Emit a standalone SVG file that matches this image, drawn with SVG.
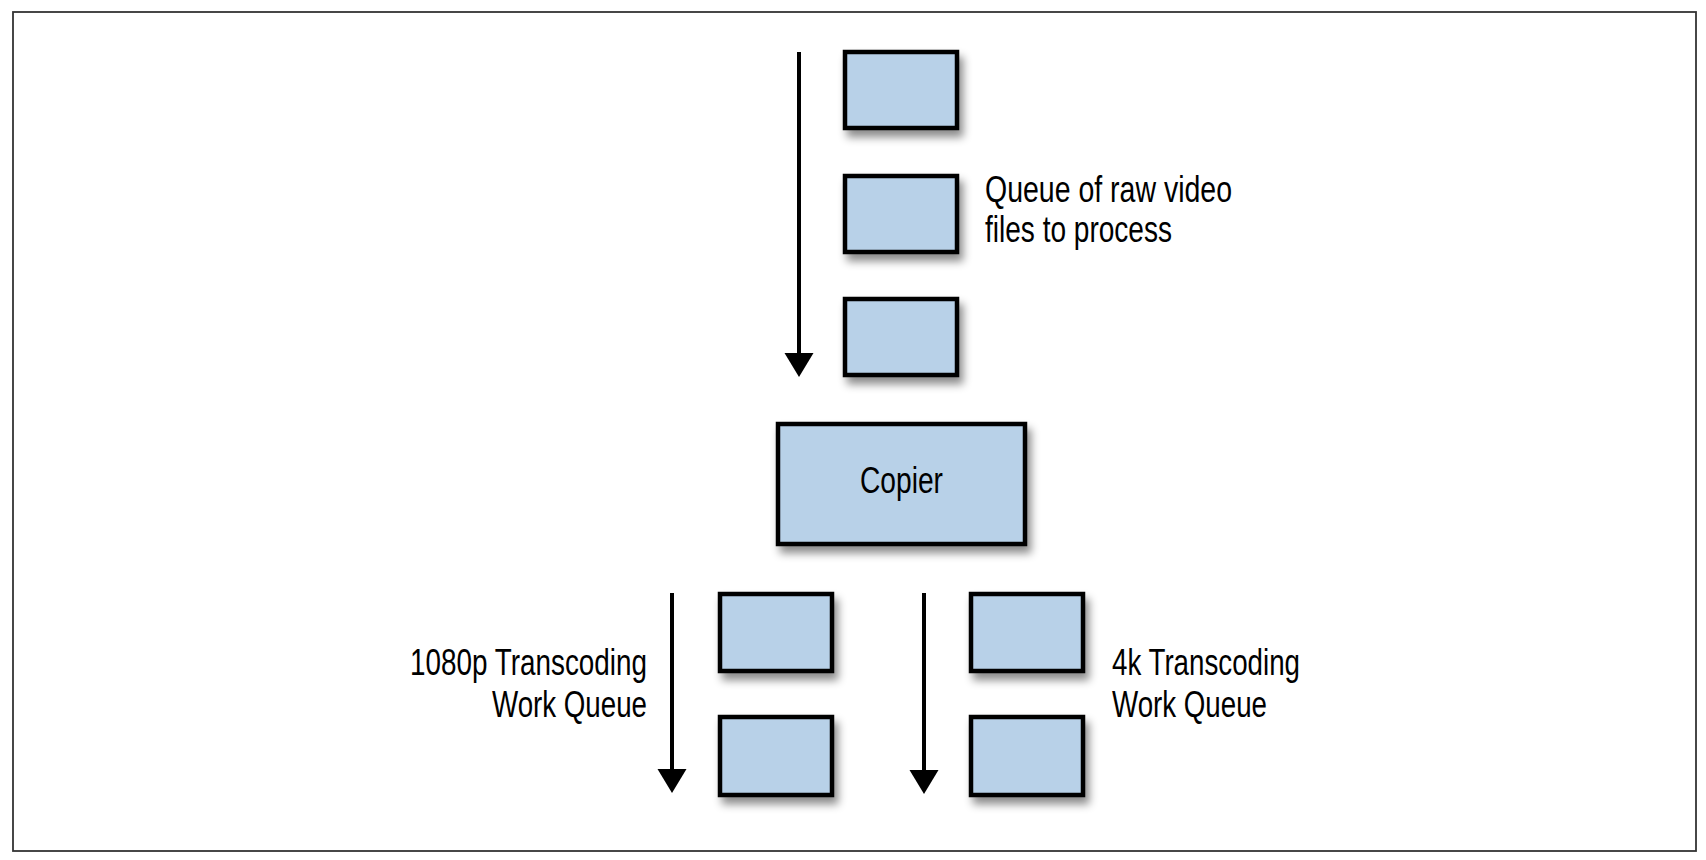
<svg xmlns="http://www.w3.org/2000/svg" width="1706" height="860" viewBox="0 0 1706 860">
<style>
.box{fill:#b8d1e8;stroke:#000;stroke-width:4.5;filter:url(#sh)}
.lbl{font-family:"Liberation Sans",Arial,sans-serif;font-size:36px;fill:#000}
.arr{stroke:#000;stroke-width:4;fill:none;marker-end:url(#ah)}
</style>
<defs>
<filter id="sh" x="-20%" y="-20%" width="150%" height="160%">
<feDropShadow dx="4" dy="7" stdDeviation="4" flood-color="#000" flood-opacity="0.45"/>
</filter>
<marker id="ah" markerUnits="userSpaceOnUse" markerWidth="26" markerHeight="30" viewBox="0 -15 26 30" refX="12" refY="0" orient="auto">
<path d="M0,-14.5 L24,0 L0,14.5 Z" fill="#000"/>
</marker>
</defs>
<rect x="13" y="12" width="1683" height="839" fill="#fff" stroke="#333" stroke-width="1.8"/>
<g id="connectors">
<line class="arr" x1="799" y1="52" x2="799" y2="365"/>
<line class="arr" x1="672" y1="593" x2="672" y2="781"/>
<line class="arr" x1="924" y1="593" x2="924" y2="782"/>
</g>
<g id="raw1"><rect class="box" x="845" y="52" width="112" height="76"/></g>
<g id="raw2"><rect class="box" x="845" y="176" width="112" height="76"/></g>
<g id="raw3"><rect class="box" x="845" y="299" width="112" height="76"/></g>
<g id="rawlabel"><text class="lbl" x="985" y="202" textLength="247" lengthAdjust="spacingAndGlyphs">Queue of raw video</text><text class="lbl" x="985" y="242" textLength="187" lengthAdjust="spacingAndGlyphs">files to process</text></g>
<g id="copier"><rect class="box" x="778" y="424" width="247" height="120"/><text class="lbl" x="860" y="493" textLength="83" lengthAdjust="spacingAndGlyphs">Copier</text></g>
<g id="q1080a"><rect class="box" x="720" y="594" width="112" height="77"/></g>
<g id="q1080b"><rect class="box" x="720" y="717" width="112" height="78"/></g>
<g id="label1080"><text class="lbl" x="410" y="675" textLength="237" lengthAdjust="spacingAndGlyphs">1080p Transcoding</text><text class="lbl" x="492" y="717" textLength="155" lengthAdjust="spacingAndGlyphs">Work Queue</text></g>
<g id="q4ka"><rect class="box" x="971" y="594" width="112" height="77"/></g>
<g id="q4kb"><rect class="box" x="971" y="717" width="112" height="78"/></g>
<g id="label4k"><text class="lbl" x="1112" y="675" textLength="188" lengthAdjust="spacingAndGlyphs">4k Transcoding</text><text class="lbl" x="1112" y="717" textLength="155" lengthAdjust="spacingAndGlyphs">Work Queue</text></g>
</svg>
